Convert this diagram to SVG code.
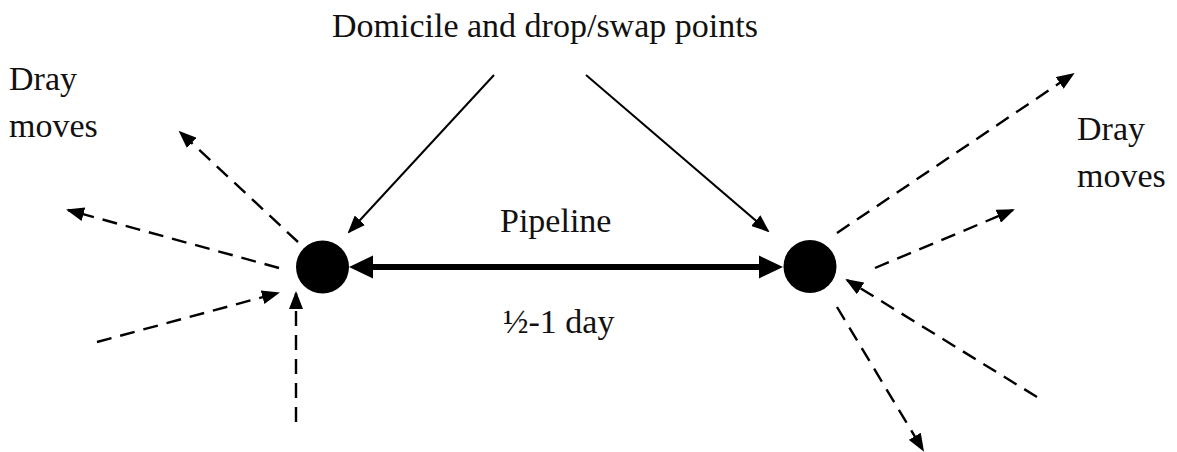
<svg xmlns="http://www.w3.org/2000/svg" width="1177" height="452" viewBox="0 0 1177 452">
<rect width="1177" height="452" fill="#fff"/>
<defs>
<marker id="ah" markerUnits="userSpaceOnUse" markerWidth="18" markerHeight="14" viewBox="0 0 18 14" refX="16" refY="7" orient="auto">
<path d="M0,0 L18,7 L0,14 z" fill="#000"/>
</marker>
</defs>
<g id="labels" fill="#111">
<text x="332" y="37" style="font-family:'Liberation Serif';font-size:34px">Domicile and drop/swap points</text>
<text x="9" y="90" style="font-family:'Liberation Serif';font-size:34px">Dray</text>
<text x="9" y="137" style="font-family:'Liberation Serif';font-size:34px">moves</text>
<text x="1077" y="140" style="font-family:'Liberation Serif';font-size:34px">Dray</text>
<text x="1077" y="187" style="font-family:'Liberation Serif';font-size:34px">moves</text>
<text x="500" y="232" style="font-family:'Liberation Serif';font-size:34px">Pipeline</text>
<text x="503" y="333" style="font-family:'Liberation Serif';font-size:34px">&#189;-1 day</text>
</g>
<g id="connectors" stroke="#000" fill="none">
<g stroke-width="2">
<line x1="494" y1="75" x2="349" y2="232" marker-end="url(#ah)"/>
<line x1="586" y1="75" x2="768" y2="231" marker-end="url(#ah)"/>
</g>
<line x1="368" y1="267" x2="764" y2="267" stroke-width="6"/>
<polygon points="349,267 373,255.5 373,278.5" fill="#000" stroke="none"/>
<polygon points="783,267 759,255.5 759,278.5" fill="#000" stroke="none"/>
<g stroke-width="2.4" stroke-dasharray="15 9">
<line x1="298" y1="242" x2="180" y2="132" marker-end="url(#ah)"/>
<line x1="279" y1="268" x2="68" y2="210" marker-end="url(#ah)"/>
<line x1="97" y1="342" x2="278" y2="293" marker-end="url(#ah)"/>
<line x1="296" y1="422" x2="296" y2="293" marker-end="url(#ah)"/>
<line x1="837" y1="233" x2="1073" y2="74" marker-end="url(#ah)"/>
<line x1="875" y1="268" x2="1013" y2="210" marker-end="url(#ah)"/>
<line x1="1037" y1="397" x2="847" y2="280" marker-end="url(#ah)"/>
<line x1="837" y1="307" x2="923" y2="450" marker-end="url(#ah)"/>
</g>
</g>
<g id="node-left"><circle cx="322.5" cy="267" r="26.5" fill="#000"/></g>
<g id="node-right"><circle cx="810" cy="266.5" r="26.5" fill="#000"/></g>
</svg>
